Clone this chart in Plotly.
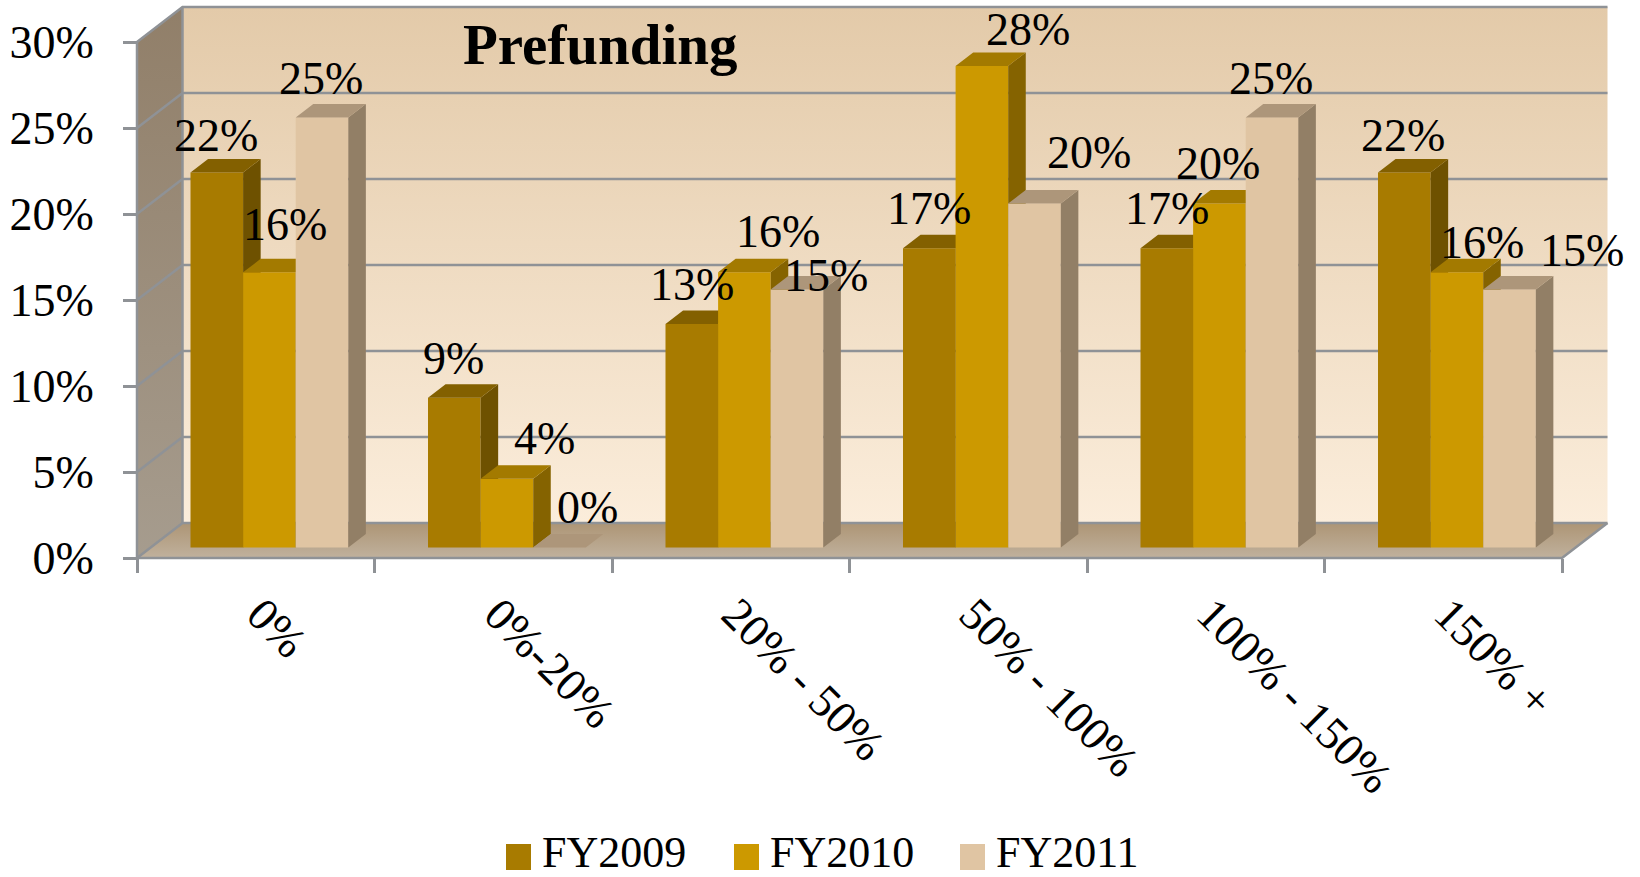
"""Prefunding: 3D-look clustered columns, drawn on overlaid 2D axes."""
import plotly.graph_objects as go

CATEGORIES = ["0%", "0%-20%", "20% - 50%", "50% - 100%", "100% - 150%", "150% +"]
SERIES = ["FY2009", "FY2010", "FY2011"]
FY2009 = [21.8, 8.7, 13.0, 17.4, 17.4, 21.8]
FY2010 = [16.0, 4.0, 16.0, 28.0, 20.0, 16.0]
FY2011 = [25.0, 0.0, 15.0, 20.0, 25.0, 15.0]
VALUES = [FY2009, FY2010, FY2011]
Y_TICKS = [0, 5, 10, 15, 20, 25, 30]

# colours per series: front, side, top
COLORS = [("#A87B00", "#6E5100", "#836000"),
          ("#CC9900", "#856300", "#A37A00"),
          ("#E0C5A3", "#927F66", "#AD967A")]
GRID = "#8F9296"
SERIF = "Liberation Serif"
FONT_SIZE = 46

# canvas geometry (px)
W, H = 1640, 877
X0_PX, Y0_PX = 137, 558       # front corner of the chart box
CAT_PX, PCT_PX = 237.5, 17.2  # px per category, px per percent
DEPTH_X, DEPTH_Y = 45.5 / CAT_PX, 35 / PCT_PX  # box depth in axis units
BAR_W = 52.6 / CAT_PX
BAR_D0, BAR_D1 = 0.30, 0.686  # front and back of the bars, as fraction of the depth

# data label nudges in px from the top centre of each bar's front (hand placed in the original)
LABEL_DX = [[-1, -1, 0, 0, 0, -1], [16, 38, 34, 46, -1, 25], [-1, 28, 29, 54, -1, 72]]
LABEL_DY = [[21, 23, 23, 23, 23, 21], [31, 24, 24, 20, 24, 13], [23, 24, -2, 35, 23, 23]]

X_RANGE = [-X0_PX / CAT_PX, (W - X0_PX) / CAT_PX]
Y_RANGE = [-(H - Y0_PX) / PCT_PX, Y0_PX / PCT_PX]


def pt(x, y, d):
    """Point of the box: x in categories, y in percent, d depth 0 (front) to 1 (back)."""
    return x + d * DEPTH_X, y + d * DEPTH_Y


def poly(*corners):
    xs, ys = zip(*[pt(*c) for c in corners])
    return list(xs) + [xs[0], None], list(ys) + [ys[0], None]


def face(xs, ys, color, axes, grad=None):
    tr = go.Scatter(x=xs, y=ys, mode="lines", fill="toself", line=dict(width=0),
                    hoverinfo="skip", showlegend=False, xaxis=axes[0], yaxis=axes[1])
    if grad:
        tr.fillgradient = dict(type="vertical", colorscale=[[0, grad[0]], [1, grad[1]]])
    else:
        tr.fillcolor = color
    return tr


fig = go.Figure()

# walls and floor
xmax, ymax = len(CATEGORIES), Y_TICKS[-1]
bx, by = poly((0, 0, 1), (xmax, 0, 1), (xmax, ymax, 1), (0, ymax, 1))
fig.add_trace(face(bx, by, None, ("x", "y"), grad=("#FBEDDB", "#E3CAA9")))
lx, ly = poly((0, 0, 0), (0, 0, 1), (0, ymax, 1), (0, ymax, 0))
fig.add_trace(face(lx, ly, None, ("x", "y"), grad=("#A69C8E", "#917F69")))
fx, fy = poly((0, 0, 0), (xmax, 0, 0), (xmax, 0, 1), (0, 0, 1))
fig.add_trace(face(fx, fy, None, ("x", "y"), grad=("#C0B19D", "#AD9575")))

# gridlines over back and left wall, then box edges
gx, gy = [], []
for t in Y_TICKS:
    for c in [(0, t, 0), (0, t, 1), (xmax, t, 1)]:
        a, b = pt(*c)
        gx.append(a)
        gy.append(b)
    gx.append(None)
    gy.append(None)
for c in [(0, 0, 0), (0, ymax, 0), None, (0, 0, 0), (xmax, 0, 0), (xmax, 0, 1), None, (0, 0, 1), (0, ymax, 1)]:
    a, b = pt(*c) if c else (None, None)
    gx.append(a)
    gy.append(b)
fig.add_trace(go.Scatter(x=gx, y=gy, mode="lines", line=dict(color=GRID, width=2.5),
                         hoverinfo="skip", showlegend=False))

# one overlaid axis pair per series, so later series paint over the earlier sides
for s, (name, vals, cols) in enumerate(zip(SERIES, VALUES, COLORS)):
    axes = (f"x{s + 2}", f"y{s + 2}")
    # left edges before the depth shift; pt() adds the shift for the faces
    lefts = [g + 0.5 + (s - 1.5) * BAR_W for g in range(len(vals))]
    centers = [a + BAR_W / 2 + BAR_D0 * DEPTH_X for a in lefts]
    base = BAR_D0 * DEPTH_Y
    fig.add_trace(go.Bar(x=centers, y=vals, base=base, width=BAR_W, name=name,
                         marker=dict(color=cols[0], line=dict(width=0)), showlegend=False,
                         xaxis=axes[0], yaxis=axes[1]))
    sx, sy, tx, ty = [], [], [], []
    for a, v in zip(lefts, vals):
        r = a + BAR_W
        px_, py_ = poly((r, 0, BAR_D0), (r, v, BAR_D0), (r, v, BAR_D1), (r, 0, BAR_D1))
        sx += px_
        sy += py_
        px_, py_ = poly((a, v, BAR_D0), (r, v, BAR_D0), (r, v, BAR_D1), (a, v, BAR_D1))
        tx += px_
        ty += py_
    fig.add_trace(face(sx, sy, cols[1], axes))
    fig.add_trace(face(tx, ty, cols[2], axes))

    for g, (c, v) in enumerate(zip(centers, vals)):
        fig.add_annotation(x=c, y=v + base, xref="x", yref="y", text=f"{round(v)}%",
                           showarrow=False, yanchor="bottom", xanchor="center",
                           xshift=LABEL_DX[s][g], yshift=LABEL_DY[s][g] - 11,
                           font=dict(family=SERIF, size=FONT_SIZE, color="black"))

# title
fig.add_annotation(x=600 / W, y=1 - 44 / H, xref="paper", yref="paper", text="<b>Prefunding</b>",
                   showarrow=False, yanchor="middle", font=dict(family=SERIF, size=57, color="black"))

# legend
for name, cols, sw_x, tx_x in zip(SERIES, COLORS, [506, 734, 960], [540, 768, 994]):
    fig.add_shape(type="rect", xref="paper", yref="paper", x0=sw_x / W, x1=(sw_x + 25) / W,
                  y0=1 - 870 / H, y1=1 - 844 / H, fillcolor=cols[0], line=dict(width=0))
    fig.add_annotation(x=tx_x / W, y=1 - 852 / H, xref="paper", yref="paper", text=name, showarrow=False,
                       xanchor="left", yanchor="middle", font=dict(family=SERIF, size=44, color="black"))

fig.update_layout(
    width=W, height=H, margin=dict(l=0, r=0, t=0, b=0), paper_bgcolor="white", plot_bgcolor="white",
    showlegend=False, barmode="overlay",
    font=dict(family=SERIF, size=FONT_SIZE, color="black"),
    xaxis=dict(range=X_RANGE, domain=[0, 1], anchor="free", position=1 - Y0_PX / H, tickmode="array",
               tickvals=list(range(xmax + 1)), ticks="outside", ticklen=14, tickwidth=2.5, tickcolor=GRID,
               showticklabels=False, showgrid=False, zeroline=False),
    yaxis=dict(range=Y_RANGE, domain=[0, 1], anchor="free", position=X0_PX / W, tickmode="array",
               tickvals=Y_TICKS, ticktext=[f"{t}%" for t in Y_TICKS], ticks="outside", ticklen=14,
               tickwidth=2.5, tickcolor=GRID, ticklabelstandoff=20, showgrid=False, zeroline=False),
    # category labels hang off the first series' x axis
    xaxis2=dict(range=X_RANGE, domain=[0, 1], overlaying="x", anchor="free", position=1 - Y0_PX / H,
                tickmode="array", tickvals=[g + 0.52 for g in range(xmax)], ticktext=CATEGORIES,
                tickangle=45, ticks="", ticklabelstandoff=19, showgrid=False, zeroline=False),
    xaxis3=dict(range=X_RANGE, overlaying="x", visible=False),
    xaxis4=dict(range=X_RANGE, overlaying="x", visible=False),
    yaxis2=dict(range=Y_RANGE, overlaying="y", visible=False),
    yaxis3=dict(range=Y_RANGE, overlaying="y", visible=False),
    yaxis4=dict(range=Y_RANGE, overlaying="y", visible=False),
)

fig.write_html("out.html", config=dict(displayModeBar=False),
               post_script="document.body.style.margin='0';")
